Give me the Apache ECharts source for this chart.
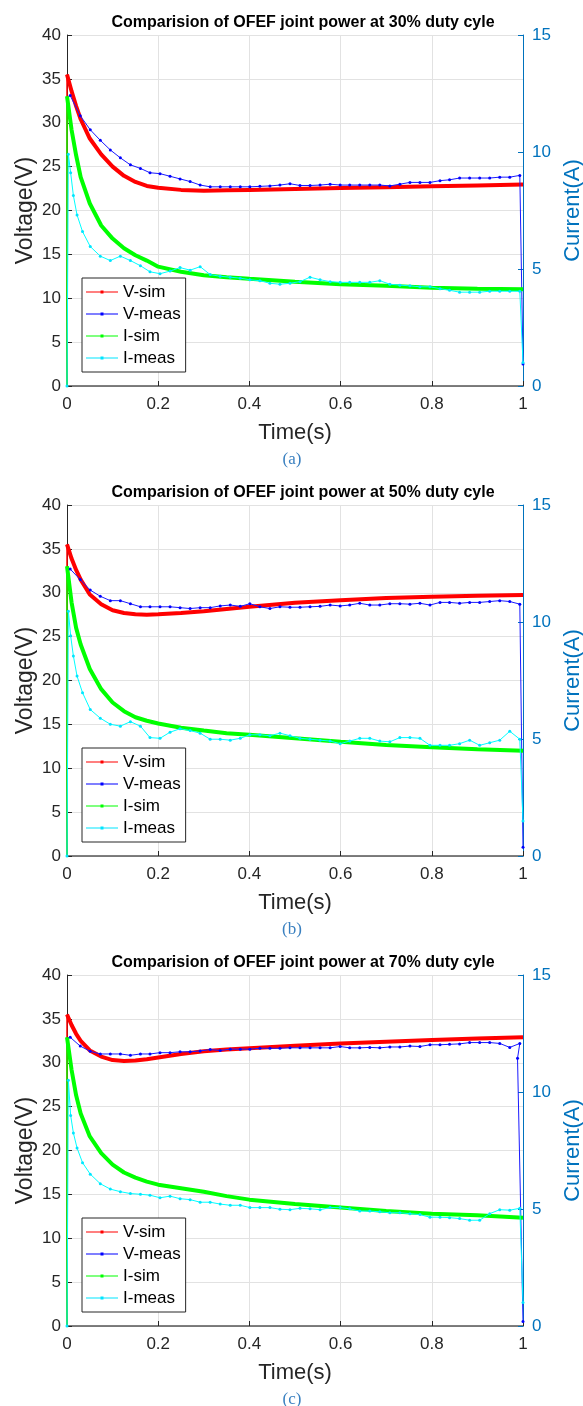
<!DOCTYPE html>
<html>
<head>
<meta charset="utf-8">
<title>OFEF joint power</title>
<script src="https://cdn.jsdelivr.net/npm/echarts@6/dist/echarts.min.js"></script>
<style>
    html, body { margin: 0; padding: 0; background: #fff; }
    .panel { width: 583px; height: 470px; }
</style>
</head>
<body>
<div id="chart-a" class="panel"></div>
<div id="chart-b" class="panel"></div>
<div id="chart-c" class="panel" style="height:466px"></div>
<script>
// time bases (s)
const tSim = [0, 0, 0.01, 0.02, 0.03, 0.05, 0.075, 0.1, 0.125, 0.15, 0.175, 0.2, 0.25, 0.3, 0.35, 0.4, 0.5, 0.6, 0.7, 0.8, 0.9, 1.0];
const tMeas = [0.007, 0.029, 0.051, 0.073, 0.095, 0.117, 0.139, 0.161, 0.182, 0.204,
    0.226, 0.248, 0.270, 0.292, 0.314, 0.336, 0.358, 0.380, 0.401, 0.423,
    0.445, 0.467, 0.489, 0.511, 0.533, 0.555, 0.577, 0.599, 0.620, 0.642,
    0.664, 0.686, 0.708, 0.730, 0.752, 0.774, 0.796, 0.818, 0.839, 0.861,
    0.883, 0.905, 0.927, 0.949, 0.971, 0.993];
const tCurStart = [0, 0.003, 0.008, 0.014, 0.022, 0.034];

// (a) 30% duty cycle
const vSimA = [0, 35.5, 33.6, 31.9, 30.4, 28.2, 26.4, 25.0, 23.95, 23.25, 22.8, 22.6, 22.35, 22.25, 22.3, 22.35, 22.45, 22.55, 22.65, 22.75, 22.85, 22.95];
const iSimA = [0, 12.38, 10.95, 9.86, 8.93, 7.80, 6.86, 6.30, 5.89, 5.59, 5.36, 5.10, 4.88, 4.73, 4.65, 4.58, 4.46, 4.35, 4.28, 4.20, 4.16, 4.13];
const vMeasA = [33.1, 30.8, 29.2, 28.0, 26.9, 26.0, 25.2, 24.8, 24.3, 24.2,
    23.9, 23.6, 23.3, 22.9, 22.7, 22.7, 22.7, 22.7, 22.7, 22.75,
    22.8, 22.9, 23.05, 22.85, 22.85, 22.9, 23.0, 22.9, 22.9, 22.9,
    22.9, 22.9, 22.8, 23.0, 23.2, 23.2, 23.2, 23.4, 23.5, 23.7,
    23.7, 23.7, 23.7, 23.8, 23.8, 24.0];
const vTailTA = [1.0];
const vTailA = [2.5];
const iMeasA = [0, 9.90, 9.11, 8.14, 7.31, 6.60,
    5.96, 5.55, 5.36, 5.55, 5.36, 5.14, 4.88, 4.80, 4.91, 5.06,
    4.95, 5.10, 4.76, 4.69, 4.65, 4.61, 4.54, 4.50, 4.39, 4.35,
    4.39, 4.46, 4.65, 4.54, 4.46, 4.43, 4.43, 4.43, 4.43, 4.50,
    4.35, 4.31, 4.28, 4.24, 4.24, 4.16, 4.09, 4.01, 4.01, 4.01,
    4.05, 4.05, 4.05, 4.05];
const iTailA = [1.0];

// (b) 50% duty cycle
const vSimB = [0, 35.5, 33.9, 32.6, 31.5, 29.8, 28.7, 28.0, 27.7, 27.55, 27.5, 27.55, 27.7, 27.9, 28.15, 28.4, 28.85, 29.15, 29.4, 29.55, 29.65, 29.75];
const iSimB = [0, 12.38, 10.84, 9.75, 9.04, 7.99, 7.13, 6.56, 6.19, 5.93, 5.78, 5.66, 5.48, 5.36, 5.25, 5.18, 5.03, 4.88, 4.74, 4.65, 4.56, 4.50];
const vMeasB = [32.7, 31.5, 30.3, 29.6, 29.1, 29.1, 28.75, 28.4, 28.4, 28.4,
    28.4, 28.3, 28.2, 28.3, 28.3, 28.5, 28.6, 28.45, 28.75, 28.4,
    28.2, 28.4, 28.35, 28.35, 28.4, 28.45, 28.6, 28.5, 28.6, 28.8,
    28.6, 28.6, 28.75, 28.75, 28.7, 28.8, 28.6, 28.9, 28.9, 28.8,
    28.9, 28.9, 29.0, 29.1, 29.0, 28.7];
const vTailTB = [1.0];
const vTailB = [1.0];
const iMeasB = [0, 10.46, 9.41, 8.55, 7.69, 6.98,
    6.26, 5.89, 5.63, 5.55, 5.74, 5.55, 5.06, 5.03, 5.29, 5.44,
    5.36, 5.25, 4.99, 4.99, 4.95, 5.03, 5.18, 5.18, 5.14, 5.25,
    5.14, 5.03, 4.99, 4.95, 4.91, 4.80, 4.91, 5.03, 5.03, 4.91,
    4.88, 5.06, 5.06, 5.03, 4.73, 4.73, 4.73, 4.80, 4.95, 4.73,
    4.84, 4.95, 5.33, 4.99];
const iTailB = [1.5];

// (c) 70% duty cycle
const vSimC = [0, 35.5, 34.3, 33.3, 32.5, 31.4, 30.7, 30.3, 30.2, 30.25, 30.4, 30.6, 31.0, 31.3, 31.5, 31.65, 31.95, 32.2, 32.4, 32.6, 32.75, 32.9];
const iSimC = [0, 12.34, 10.95, 9.86, 9.08, 8.10, 7.39, 6.90, 6.56, 6.34, 6.17, 6.04, 5.89, 5.74, 5.55, 5.40, 5.21, 5.06, 4.91, 4.80, 4.73, 4.63];
const vMeasC = [32.9, 31.9, 31.3, 31.0, 31.0, 31.0, 30.85, 31.0, 31.0, 31.15,
    31.15, 31.25, 31.25, 31.35, 31.5, 31.4, 31.55, 31.55, 31.55, 31.65,
    31.65, 31.65, 31.7, 31.7, 31.7, 31.7, 31.7, 31.85, 31.7, 31.7,
    31.75, 31.7, 31.8, 31.8, 31.9, 31.85, 32.05, 32.05, 32.1, 32.15,
    32.3, 32.3, 32.3, 32.2, 31.75, 32.2];
const vTailTC = [0.988, 1.0];
const vTailC = [30.5, 0.5];
const iMeasC = [0, 10.5, 9.0, 8.25, 7.61, 6.98,
    6.49, 6.08, 5.85, 5.74, 5.66, 5.63, 5.59, 5.48, 5.55, 5.44,
    5.40, 5.29, 5.29, 5.21, 5.16, 5.16, 5.06, 5.06, 5.06, 4.99,
    4.97, 5.03, 5.01, 4.97, 5.06, 5.06, 5.01, 4.91, 4.91, 4.88,
    4.84, 4.84, 4.80, 4.76, 4.65, 4.65, 4.63, 4.59, 4.52, 4.52,
    4.80, 4.97, 4.95, 5.03];
const iTailC = [1.0];

const legendNames = ['V-sim', 'V-meas', 'I-sim', 'I-meas'];

const FONT = "'Liberation Sans', Arial, sans-serif";
const AXIS_DARK = '#262626';
const AXIS_BLUE = '#0072bd';
const GRID_GRAY = '#e2e2e2';

function zip(t, v) {
    return t.map((x, i) => [x, v[i]]);
}

// thick simulated curve + thin switch-on edge at t = 0
function simSeries(name, axis, color, t, v) {
    return [
        {
            name: name,
            type: 'line',
            yAxisIndex: axis,
            data: zip(t.slice(0, 2), v.slice(0, 2)),
            showSymbol: false,
            lineStyle: { color: color, width: 1.5 },
            itemStyle: { color: color }
        },
        {
            name: name,
            type: 'line',
            yAxisIndex: axis,
            data: zip(t.slice(1), v.slice(1)),
            showSymbol: false,
            lineStyle: { color: color, width: 4 },
            itemStyle: { color: color }
        }
    ];
}

function buildOption(p) {
    const tCur = tCurStart.concat(tMeas.slice(2));
    return {
        animation: false,
        backgroundColor: '#fff',
        title: {
            text: p.title,
            left: 298,
            top: 10,
            textAlign: 'center',
            textStyle: { fontFamily: FONT, fontSize: 16, fontWeight: 'bold', color: '#000' }
        },
        grid: { left: 67, right: 60, top: 35, height: 351, outerBoundsMode: 'none' },
        legend: {
            data: legendNames,
            orient: 'vertical',
            left: 82,
            top: 278,
            icon: 'path://M0,4.5 L32,4.5 L32,5.5 L0,5.5 Z M14.5,3.5 L17.5,3.5 L17.5,6.5 L14.5,6.5 Z',
            itemWidth: 32,
            itemHeight: 10,
            itemGap: 4,
            padding: [5, 5, 5, 4],
            borderColor: AXIS_DARK,
            borderWidth: 1,
            borderRadius: 0,
            backgroundColor: '#fff',
            textStyle: { fontFamily: FONT, fontSize: 17, color: '#000', lineHeight: 18 }
        },
        xAxis: {
            type: 'value',
            min: 0,
            max: 1,
            interval: 0.2,
            name: 'Time(s)',
            nameLocation: 'middle',
            nameGap: 36,
            nameTextStyle: { fontFamily: FONT, fontSize: 22, color: AXIS_DARK },
            axisLine: { show: true, lineStyle: { color: '#555', width: 1.5 } },
            axisTick: { show: true, inside: true, length: 5, lineStyle: { color: AXIS_DARK } },
            axisLabel: { fontFamily: FONT, fontSize: 17, color: AXIS_DARK, margin: 10 },
            splitLine: { show: true, lineStyle: { color: GRID_GRAY, width: 1 } }
        },
        yAxis: [
            {
                type: 'value',
                position: 'left',
                min: 0,
                max: 40,
                interval: 5,
                name: 'Voltage(V)',
                nameLocation: 'middle',
                nameGap: 30,
                nameMoveOverlap: false,
                nameTextStyle: { fontFamily: FONT, fontSize: 23, color: AXIS_DARK },
                axisLine: { show: true, lineStyle: { color: AXIS_DARK, width: 1 } },
                axisTick: { show: true, inside: true, length: 5, lineStyle: { color: AXIS_DARK } },
                axisLabel: { fontFamily: FONT, fontSize: 17, color: AXIS_DARK, margin: 6 },
                splitLine: { show: true, lineStyle: { color: GRID_GRAY, width: 1 } }
            },
            {
                type: 'value',
                position: 'right',
                min: 0,
                max: 15,
                interval: 5,
                name: 'Current(A)',
                nameLocation: 'middle',
                nameGap: 38,
                nameRotate: 90,
                nameTextStyle: { fontFamily: FONT, fontSize: 22, color: AXIS_BLUE },
                axisLine: { show: true, lineStyle: { color: AXIS_BLUE, width: 1 } },
                axisTick: { show: true, inside: true, length: 5, lineStyle: { color: AXIS_BLUE } },
                axisLabel: { fontFamily: FONT, fontSize: 17, color: AXIS_BLUE, margin: 9 },
                splitLine: { show: false }
            }
        ],
        graphic: [{
            type: 'text',
            x: 292,
            y: 460,
            style: {
                text: p.caption,
                font: '17px "Liberation Serif", "Times New Roman", serif',
                fill: '#3a80c0',
                align: 'center',
                verticalAlign: 'middle'
            }
        }],
        series: [].concat(
            simSeries('V-sim', 0, '#ff0000', tSim, p.vSim),
            [{
                name: 'V-meas',
                type: 'line',
                yAxisIndex: 0,
                data: zip(tMeas.concat(p.vTailT), p.vMeas.concat(p.vTail)),
                symbol: 'circle',
                symbolSize: 3,
                lineStyle: { color: '#1a1aff', width: 1 },
                itemStyle: { color: '#0000ff' }
            }],
            simSeries('I-sim', 1, '#00ff00', tSim, p.iSim),
            [{
                name: 'I-meas',
                type: 'line',
                yAxisIndex: 1,
                data: zip(tCur.concat([1.0]), p.iMeas.concat(p.iTail)),
                symbol: 'circle',
                symbolSize: 3,
                lineStyle: { color: '#00ffff', width: 1 },
                itemStyle: { color: '#00e5ff' }
            }]
        )
    };
}

function drawPanel(id, p) {
    const chart = echarts.init(document.getElementById(id));
    chart.setOption(buildOption(p));
}

drawPanel('chart-a', {
    title: 'Comparision of OFEF joint power at 30% duty cyle', caption: '(a)',
    vSim: vSimA, iSim: iSimA, vMeas: vMeasA, vTailT: vTailTA, vTail: vTailA, iMeas: iMeasA, iTail: iTailA
});
drawPanel('chart-b', {
    title: 'Comparision of OFEF joint power at 50% duty cyle', caption: '(b)',
    vSim: vSimB, iSim: iSimB, vMeas: vMeasB, vTailT: vTailTB, vTail: vTailB, iMeas: iMeasB, iTail: iTailB
});
drawPanel('chart-c', {
    title: 'Comparision of OFEF joint power at 70% duty cyle', caption: '(c)',
    vSim: vSimC, iSim: iSimC, vMeas: vMeasC, vTailT: vTailTC, vTail: vTailC, iMeas: iMeasC, iTail: iTailC
});
</script>
</body>
</html>
